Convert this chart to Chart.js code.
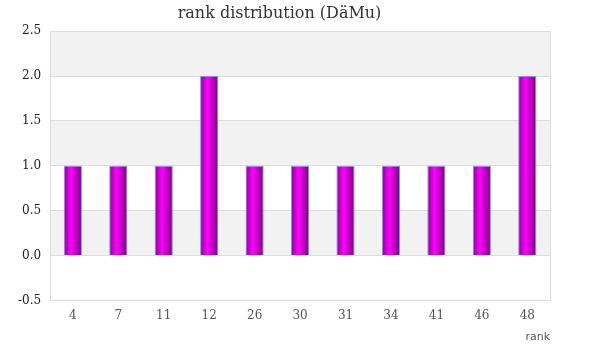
<!DOCTYPE html>
<html>
<head>
<meta charset="utf-8">
<script src="https://cdn.jsdelivr.net/npm/chart.js@4"></script>
<style>
html,body{margin:0;padding:0;background:#fff;}
#wrap{width:600px;height:360px;}
</style>
</head>
<body>
<div id="wrap"><canvas id="c" width="600" height="360"></canvas></div>
<script>
const categories = ['4','7','11','12','26','30','31','34','41','46','48'];
const counts = [1,1,1,2,1,1,1,1,1,1,2];
const chartTitle = 'rank distribution (DäMu)';
const xTitle = 'rank';
const yMin = -0.5, yMax = 2.5, yStep = 0.5;

const serif = "Georgia, 'DejaVu Serif', serif";

const bandsPlugin = {
  id: 'bands',
  beforeDraw(chart) {
    const {ctx, chartArea: a, scales: {y}} = chart;
    ctx.save();
    ctx.fillStyle = '#ffffff';
    ctx.fillRect(a.left, a.top, a.right - a.left, a.bottom - a.top);
    const ticks = y.ticks.map(t => t.value).sort((p, q) => p - q);
    for (let i = 0; i < ticks.length - 1; i++) {
      if (i % 2 === 1) {
        const y1 = y.getPixelForValue(ticks[i + 1]);
        const y0 = y.getPixelForValue(ticks[i]);
        ctx.fillStyle = '#f2f2f2';
        ctx.fillRect(a.left, y1, a.right - a.left, y0 - y1);
      }
    }
    ctx.restore();
  },
  afterDraw(chart) {
    const {ctx, chartArea: a} = chart;
    ctx.save();
    ctx.strokeStyle = '#dcdcdc';
    ctx.lineWidth = 1;
    ctx.strokeRect(Math.round(a.left) + 0.5, Math.round(a.top) + 0.5, Math.round(a.right - a.left), Math.round(a.bottom - a.top));
    ctx.restore();
  }
};

function barGradient(context) {
  const chart = context.chart;
  const xs = chart.scales.x;
  if (!xs || context.dataIndex === undefined) return '#e000e0';
  const cx = xs.getPixelForValue(context.dataIndex);
  const w = 0.4 * (xs.width / categories.length);
  if (!isFinite(cx) || !isFinite(w) || w <= 0) return '#e000e0';
  const g = chart.ctx.createLinearGradient(cx - w / 2, 0, cx + w / 2, 0);
  g.addColorStop(0, '#8a0090');
  g.addColorStop(0.4, '#ff00ff');
  g.addColorStop(1, '#7a0080');
  return g;
}

new Chart(document.getElementById('c'), {
  type: 'bar',
  data: {
    labels: categories,
    datasets: [{
      data: counts,
      backgroundColor: barGradient,
      borderColor: '#5aa5f0',
      borderWidth: 1,
      categoryPercentage: 1,
      barPercentage: 0.4
    }]
  },
  plugins: [bandsPlugin],
  options: {
    responsive: false,
    animation: false,
    devicePixelRatio: 1,
    layout: {padding: {left: 9, right: 50, top: 0, bottom: 16}},
    plugins: {
      legend: {display: false},
      tooltip: {enabled: false},
      title: {
        display: true,
        text: chartTitle,
        color: '#333333',
        font: {family: serif, size: 16, weight: 'normal'},
        padding: {top: 4, bottom: 8}
      }
    },
    scales: {
      x: {
        grid: {display: false, drawTicks: false},
        border: {display: false},
        ticks: {color: '#555555', font: {family: serif, size: 12}, padding: 8, maxRotation: 0},
        title: {
          display: true, text: xTitle, align: 'end', color: '#555555',
          font: {family: "Verdana, 'DejaVu Sans', sans-serif", size: 11}, padding: {top: 0, bottom: 0}
        }
      },
      y: {
        min: yMin, max: yMax,
        grid: {color: '#dcdcdc', drawTicks: false},
        border: {display: false},
        ticks: {
          stepSize: yStep, color: '#222222', padding: 9,
          font: {family: serif, size: 12},
          callback: v => Number(v).toFixed(1)
        }
      }
    }
  }
});
</script>
</body>
</html>
